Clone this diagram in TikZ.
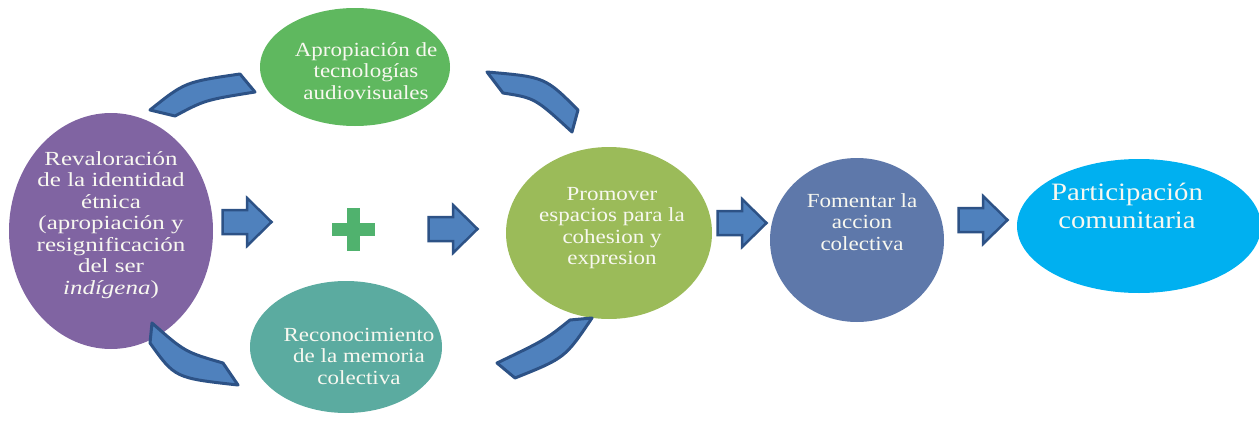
\documentclass[tikz,border=0pt]{standalone}
\usepackage{fontspec}
\setmainfont{Liberation Serif}[FakeStretch=1.15]
\newfontfamily\widerfont{Liberation Serif}[FakeStretch=1.25]
\usetikzlibrary{shapes.geometric}
\definecolor{purp}{RGB}{128,100,162}
\definecolor{topgreen}{RGB}{95,184,95}
\definecolor{teal}{RGB}{91,171,160}
\definecolor{olive}{RGB}{155,187,89}
\definecolor{slate}{RGB}{94,120,170}
\definecolor{cyanb}{RGB}{0,176,240}
\definecolor{ablue}{RGB}{79,129,189}
\definecolor{aborder}{RGB}{45,82,134}
\definecolor{plusgreen}{RGB}{80,178,110}
\definecolor{offwhite}{RGB}{248,248,240}
\begin{document}
\begin{tikzpicture}[x=1pt,y=-1pt,
  bub/.style={ellipse, draw=none, inner sep=0pt},
  txt/.style={text=offwhite, align=center, inner sep=0pt, font=\fontsize{20}{21.5}\selectfont},
  bigtxt/.style={text=offwhite, align=center, inner sep=0pt, font=\fontsize{25}{28}\selectfont},
  band/.style={fill=ablue, draw=aborder, line width=3pt, line join=round},
  barrow/.pic={\draw[fill=ablue, draw=aborder, line width=2.5pt, line join=miter]
     (-24.5,-12) -- (0,-12) -- (0,-24) -- (24.5,0) -- (0,24) -- (0,12) -- (-24.5,12) -- cycle;}
]
\useasboundingbox (0,0) rectangle (1259,423);

% ellipses
\node[bub, fill=purp, minimum width=204pt, minimum height=236pt] (rev) at (111,231) {};
\node[bub, fill=topgreen, minimum width=190pt, minimum height=118pt] (apro) at (355,67) {};
\node[bub, fill=teal, minimum width=192pt, minimum height=132pt] (reco) at (346,347) {};
\node[bub, fill=olive, minimum width=206pt, minimum height=172pt] (prom) at (609,233) {};
\node[bub, fill=slate, minimum width=174pt, minimum height=164pt] (fome) at (857,240) {};
\node[bub, fill=cyanb, minimum width=244pt, minimum height=134pt] (part) at (1139,226) {};

% texts
\node[txt, font=\widerfont\fontsize{20}{21.5}\selectfont] (revt) at ([yshift=6pt]rev.center) {Revaloración\\de la identidad\\étnica\\(apropiación y\\resignificación\\del ser\\\textit{indígena})};
\node[txt] (aprot) at ([xshift=11pt,yshift=-4pt]apro.center) {Apropiación de\\tecnologías\\audiovisuales};
\node[txt] (recot) at ([xshift=13pt,yshift=-9pt]reco.center) {Reconocimiento\\de la memoria\\colectiva};
\node[txt] (promt) at ([xshift=3pt,yshift=5pt]prom.center) {Promover\\espacios para la\\cohesion y\\expresion};
\node[txt] (fomet) at ([xshift=5pt,yshift=18pt]fome.center) {Fomentar la\\accion\\colectiva};
\node[bigtxt] (partt) at ([xshift=-12pt,yshift=20pt]part.center) {Participación\\comunitaria};

% curved bands
\draw[band] (150,110) .. controls (185,82) .. (240,74) -- (255,92) .. controls (205,100) .. (175,116) -- cycle;
\draw[band] (487,72) .. controls (545,77) .. (578,110) -- (572,132) .. controls (535,98) .. (503,93) -- cycle;
\draw[band] (152,323) .. controls (185,352) .. (223,363) -- (238,385) .. controls (175,378) .. (150,343) -- cycle;
\draw[band] (497,363) .. controls (545,340) .. (570,320) -- (592,318) .. controls (565,358) .. (515,378) -- cycle;

% straight block arrows
\pic at (247,222) {barrow};
\pic at (453,229) {barrow};
\pic at (742,223) {barrow};
\pic at (983,220) {barrow};

% plus
\fill[plusgreen] (346.5,207.5) rectangle (359.5,250.5);
\fill[plusgreen] (331.5,222.5) rectangle (374.5,235.5);
\end{tikzpicture}
\end{document}
